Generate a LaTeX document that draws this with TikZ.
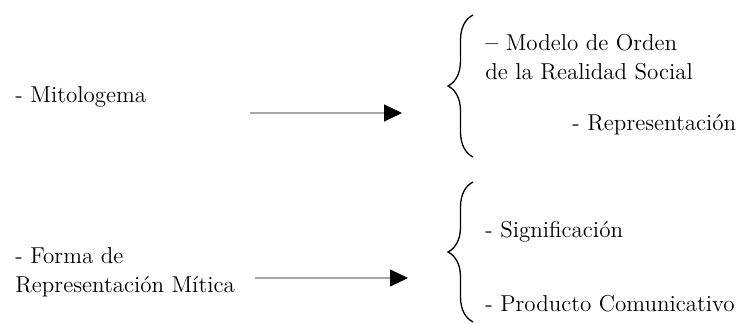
\documentclass[tikz,border=0pt]{standalone}
\usetikzlibrary{arrows.meta,decorations.pathreplacing}
\newlength{\du}
\setlength{\du}{0.5pt}
\tikzset{
  item/.style={anchor=west,inner sep=0pt,align=left,font=\fontsize{11.5}{14.5}\selectfont},
  flecha/.style={draw=gray!70,line width=0.6pt,-{Triangle[length=9pt,width=8.5pt,color=black]}},
  llave/.style={decorate,decoration={brace,amplitude=12.5pt},line width=0.65pt}
}
\begin{document}
\begin{tikzpicture}
\pgftransformxscale{1.000000}
\pgftransformyscale{-1.000000}
\definecolor{dialinecolor}{rgb}{0.000000, 0.000000, 0.000000}
\pgfsetstrokecolor{dialinecolor}
\useasboundingbox (0\du,0\du) rectangle (750\du,324\du);
% left column
\node[item] (mito) at (15\du,97\du) {- Mitologema};
\node[item] (forma) at (15\du,272\du) {- Forma de\\Representación Mítica};
% arrows
\coordinate (a1) at (250\du,113\du);
\coordinate (b1) at (402\du,113\du);
\draw[flecha] (a1)--(b1);
\coordinate (a2) at (255\du,278\du);
\coordinate (b2) at (408\du,278\du);
\draw[flecha] (a2)--(b2);
% braces
\coordinate (l1a) at (473\du,15\du);
\coordinate (l1b) at (473\du,157\du);
\draw[llave] (l1b)--(l1a);
\coordinate (l2a) at (473\du,182\du);
\coordinate (l2b) at (473\du,322\du);
\draw[llave] (l2b)--(l2a);
% right column
\node[item] (modelo) at (485\du,57\du) {\textbf{--} Modelo de Orden\\de la Realidad Social};
\node[item] (repr) at (572\du,125\du) {- Representación};
\node[item] (signif) at (485\du,232\du) {- Significación};
\node[item] (prod) at (485\du,304\du) {- Producto Comunicativo};
\end{tikzpicture}
\end{document}
